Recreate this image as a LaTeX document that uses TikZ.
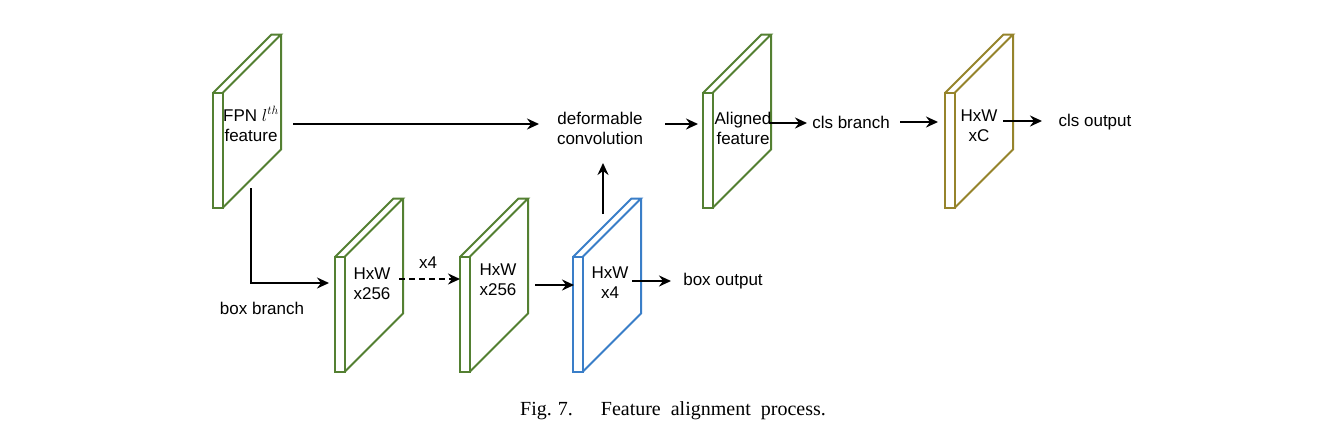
\documentclass[tikz,border=0pt]{standalone}
\usepackage{fontspec}
\setmainfont{Liberation Sans}
\newfontfamily\capfont{Liberation Serif}
\usetikzlibrary{arrows.meta}
\definecolor{plgreen}{RGB}{84,128,50}
\definecolor{plblue}{RGB}{58,126,200}
\definecolor{plolive}{RGB}{150,132,44}
\tikzset{
  platestyle/.style={line width=2pt,line join=miter},
  lbl/.style={inner sep=0pt,align=center,font=\fontsize{17}{20}\selectfont},
  arr/.style={line width=2pt,-{Stealth[length=12pt,width=11pt,inset=4pt]}},
  dasharr/.style={arr,dash pattern=on 6pt off 4pt}
}
% name, x (left of strip), y (bottom of strip), colour
\newcommand\featplate[4]{%
  \draw[platestyle,#4] (#2,#3) rectangle ({#2+9.5},{#3-115});
  \draw[platestyle,#4] (#2,{#3-115}) -- ({#2+58.5},{#3-173.5}) -- ({#2+68},{#3-173.5}) -- ({#2+9.5},{#3-115});
  \draw[platestyle,#4] ({#2+68},{#3-173.5}) -- ({#2+68},{#3-58.5}) -- ({#2+9.5},{#3});
  \coordinate (#1) at ({#2+38.75},{#3-86.75});
}
\begin{document}
\begin{tikzpicture}[x=1pt,y=-1pt]
\useasboundingbox[fill=white] (0,0) rectangle (1340,442);

% plates
\featplate{fpn}{213}{208}{plgreen}
\featplate{pone}{335}{372}{plgreen}
\featplate{ptwo}{460}{372}{plgreen}
\featplate{pblue}{573}{372}{plblue}
\featplate{palign}{703}{208}{plgreen}
\featplate{polive}{945}{208}{plolive}

% texts
\node[lbl] (fpnt) at (251,124) {FPN $l^{th}$\\feature};
\node[lbl] (deft) at (600,128) {deformable\\convolution};
\node[lbl] (alit) at (743,128) {Aligned\\feature};
\node[lbl] (clsb) at (851,122) {cls branch};
\node[lbl] (olt) at (979,126) {HxW\\xC};
\node[lbl] (clso) at (1095,122) {cls output};
\node[lbl] (boxb) at (262,308) {box branch};
\node[lbl] (p1t) at (372,284) {HxW\\x256};
\node[lbl] (xfour) at (428,263) {x4};
\node[lbl] (p2t) at (498,280) {HxW\\x256};
\node[lbl] (pbt) at (610,283) {HxW\\x4};
\node[lbl] (boxo) at (723,281) {box output};

% connector end points
\coordinate (a1s) at (293,124); \coordinate (a1e) at (539,124);
\coordinate (a2s) at (665,124); \coordinate (a2e) at (698,124);
\coordinate (a3s) at (770,123); \coordinate (a3e) at (807,123);
\coordinate (a4s) at (900,122); \coordinate (a4e) at (938,122);
\coordinate (a5s) at (1003,121); \coordinate (a5e) at (1042,121);
\coordinate (a6s) at (251,188); \coordinate (a6c) at (251,283); \coordinate (a6e) at (329,283);
\coordinate (a7s) at (399,279); \coordinate (a7e) at (460,279);
\coordinate (a8s) at (535,285); \coordinate (a8e) at (574,285);
\coordinate (a9s) at (632,281); \coordinate (a9e) at (671,281);
\coordinate (a10s) at (603,214); \coordinate (a10e) at (603,163);

\draw[arr] (a1s) -- (a1e);
\draw[arr] (a2s) -- (a2e);
\draw[arr] (a3s) -- (a3e);
\draw[arr] (a4s) -- (a4e);
\draw[arr] (a5s) -- (a5e);
\draw[arr] (a6s) -- (a6c) -- (a6e);
\draw[dasharr] (a7s) -- (a7e);
\draw[arr] (a8s) -- (a8e);
\draw[arr] (a9s) -- (a9e);
\draw[arr] (a10s) -- (a10e);

% caption
\node[inner sep=0pt,anchor=base,font=\capfont\fontsize{20}{22}\selectfont] (cap) at (673,415) {Fig.\hspace{6pt}7.\hspace{28pt}Feature\hspace{10pt}alignment\hspace{10pt}process.};
\end{tikzpicture}
\end{document}
